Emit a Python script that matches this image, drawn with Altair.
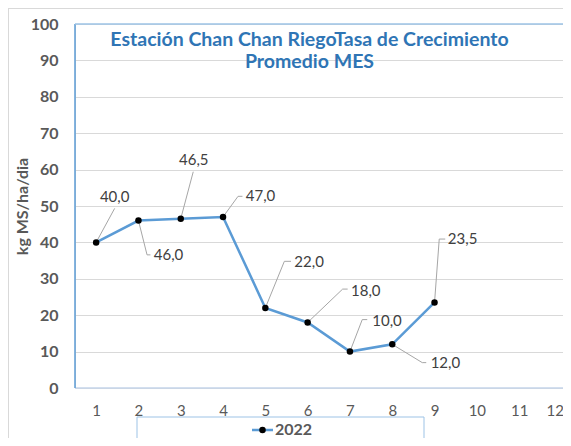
import altair as alt
import pandas as pd

# ---------------- data ----------------
months = [1, 2, 3, 4, 5, 6, 7, 8, 9]
values = [40.0, 46.0, 46.5, 47.0, 22.0, 18.0, 10.0, 12.0, 23.5]
series_name = "2022"
x_ticks = list(range(1, 13))
y_ticks = list(range(0, 101, 10))
title_lines = ["Estación Chan Chan RiegoTasa de Crecimiento", "Promedio MES"]
y_title = "kg MS/ha/dia"

# ---------------- layout ----------------
FONT = "Lato"
W, H = 488, 364
X_MIN, X_MAX = 0.5, 12.037
Y_MIN, Y_MAX = 0, 100
PX_X = W / (X_MAX - X_MIN)
PX_Y = H / (Y_MAX - Y_MIN)

# per-label leader geometry in pixels relative to the point:
# (elbow dx, elbow dy, end dx, end dy, text dx, text dy, align)
leader_layout = [
    (18.5, -34, 18.5, -34, 18.5, -45, "center"),
    (8.6, 34.3, 12, 34.3, 15.3, 34.3, "left"),
    (12.5, -47, 12.5, -47, 13, -59, "center"),
    (15, -20.6, 19.4, -20.6, 22.7, -21, "left"),
    (19, -46.6, 25.7, -46.6, 29, -46, "left"),
    (35, -33.4, 40, -33.4, 43.4, -31.5, "left"),
    (12.3, -32, 17.3, -32, 22.3, -30.3, "left"),
    (30, 18.3, 34, 18.3, 38.4, 19, "left"),
    (4.7, -63.4, 10.7, -63.4, 13.3, -63.4, "left"),
]

def fx(m, dx):
    return m + dx / PX_X

def fy(v, dy):
    return v - dy / PX_Y

pts = pd.DataFrame({"mes": months, "valor": values, "serie": series_name})

seg_rows, lab_rows = [], []
for m, v, (ex, ey, nx, ny, tx, ty, al) in zip(months, values, leader_layout):
    seg_rows.append({"mes": m, "valor": v, "x2": fx(m, ex), "y2": fy(v, ey)})
    seg_rows.append({"mes": fx(m, ex), "valor": fy(v, ey), "x2": fx(m, nx), "y2": fy(v, ny)})
    lab_rows.append({"mes": fx(m, tx), "valor": fy(v, ty), "txt": f"{v:.1f}".replace(".", ","), "al": al})
segs = pd.DataFrame(seg_rows)
labs = pd.DataFrame(lab_rows)

xs = alt.Scale(domain=[X_MIN, X_MAX], nice=False, zero=False)
ys = alt.Scale(domain=[Y_MIN, Y_MAX], nice=False, zero=True)

x_axis = alt.Axis(values=x_ticks, tickCount=20, format="d", title=None, grid=False, domain=False,
                  ticks=False, labelFontSize=15, labelColor="#595959", labelPadding=15,
                  labelFont=FONT, labelOverlap=False,
                  labelAlign=alt.condition("datum.value == 12", alt.value("right"), alt.value("center")),
                  labelOffset=alt.condition("datum.value == 12", alt.value(2), alt.value(0)))
y_axis = alt.Axis(values=y_ticks, tickCount=20, format="d", title=y_title, grid=True,
                  gridColor="#D9D9D9", gridWidth=1, domain=False, ticks=False, labelFontSize=16,
                  labelFontWeight="bold", labelColor="#595959", labelPadding=17, labelFont=FONT,
                  labelOverlap=False, titleFont=FONT, titleFontSize=16, titleFontWeight="bold",
                  titleColor="#595959", titlePadding=0)

X = alt.X("mes:Q", scale=xs, axis=x_axis)
Y = alt.Y("valor:Q", scale=ys, axis=y_axis)

base = alt.Chart(pts)

line = base.mark_line(color="#5B9BD5", strokeWidth=2.5).encode(x=X, y=Y)
points = base.mark_circle(color="black", opacity=1, size=42).encode(x=X, y=Y)

leaders = alt.Chart(segs).mark_rule(color="#A6A6A6", strokeWidth=1).encode(
    x=X, y=Y, x2="x2:Q", y2="y2:Q"
)

lab_center = alt.Chart(labs).transform_filter("datum.al == 'center'").mark_text(
    align="center", baseline="middle", font=FONT, fontSize=15, color="#404040"
).encode(x=X, y=Y, text="txt:N")
lab_left = alt.Chart(labs).transform_filter("datum.al == 'left'").mark_text(
    align="left", baseline="middle", font=FONT, fontSize=15, color="#404040"
).encode(x=X, y=Y, text="txt:N")

one = alt.Chart(pd.DataFrame({"k": [0]}))

title1 = one.mark_text(font=FONT, fontSize=19.5, fontWeight="bold", color="#2F75B5",
                       align="center", baseline="middle").encode(
    x=alt.value(234.5), y=alt.value(15.5), text=alt.value(title_lines[0]))
title2 = one.mark_text(font=FONT, fontSize=19.5, fontWeight="bold", color="#2F75B5",
                       align="center", baseline="middle").encode(
    x=alt.value(234.5), y=alt.value(37.5), text=alt.value(title_lines[1]))

# plot-area border (left, top, bottom) and outer chart border
left_border = one.mark_rule(color="#5B9BD5", strokeWidth=1.5).encode(
    x=alt.value(0), y=alt.value(0), y2=alt.value(H))
top_border = one.mark_rule(color="#9DC3E6", strokeWidth=1.5).encode(
    x=alt.value(0), x2=alt.value(W), y=alt.value(0))
bottom_border = one.mark_rule(color="#C5D5EA", strokeWidth=1.5).encode(
    x=alt.value(0), x2=alt.value(W), y=alt.value(H))
outer_left = one.mark_rule(color="#D9D9D9", strokeWidth=1).encode(
    x=alt.value(-66.5), y=alt.value(-16), y2=alt.value(430))
outer_top = one.mark_rule(color="#D9D9D9", strokeWidth=1).encode(
    x=alt.value(-67), x2=alt.value(W), y=alt.value(-15.5))

# legend (drawn box + entry)
leg_box = one.mark_rect(fill="white", stroke="#9DC3E6", strokeWidth=1).encode(
    x=alt.value(62), x2=alt.value(349), y=alt.value(393), y2=alt.value(421))
leg_line = one.mark_rule(color="#5B9BD5", strokeWidth=2.5).encode(
    x=alt.value(177), x2=alt.value(198), y=alt.value(406))
leg_pt = one.mark_circle(color="black", opacity=1, size=42).encode(
    x=alt.value(187.5), y=alt.value(406))
leg_txt = one.mark_text(font=FONT, fontSize=16, fontWeight="bold", color="#595959",
                        align="left", baseline="middle").encode(
    x=alt.value(200), y=alt.value(406), text=alt.value(series_name))

chart = alt.layer(
    bottom_border, line, leaders, points, lab_center, lab_left, title1, title2,
    left_border, top_border, outer_left, outer_top,
    leg_box, leg_line, leg_pt, leg_txt
).properties(
    width=W, height=H,
    autosize=alt.AutoSizeParams(type="none"),
    padding={"left": 67, "top": 16, "right": 0, "bottom": 50},
).configure_view(stroke=None).configure(background="white")

chart.save("out.html", embed_options={"renderer": "svg", "actions": False})
